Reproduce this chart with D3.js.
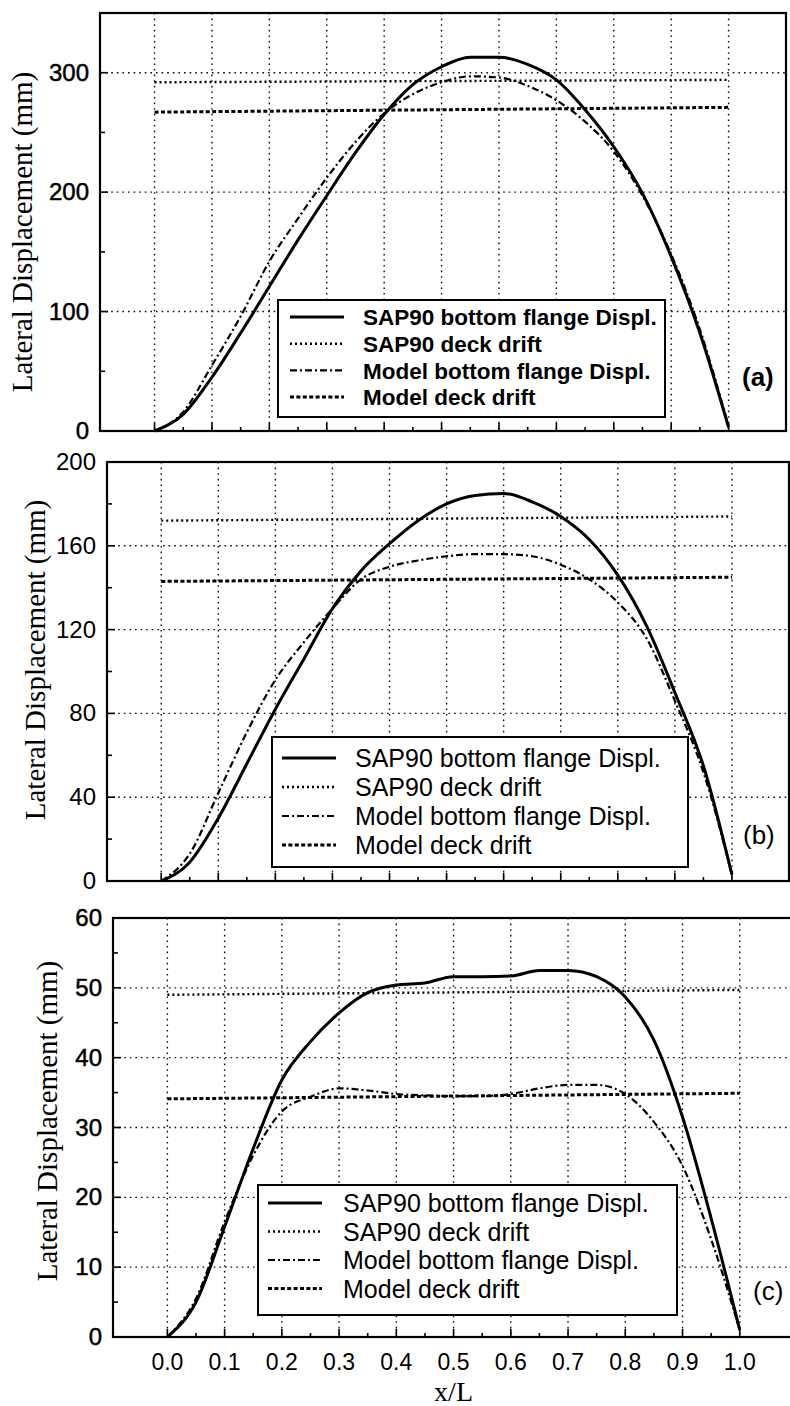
<!DOCTYPE html>
<head>
<meta charset="utf-8">
<title>Lateral displacement along the span</title>
<style>
  body { margin: 0; background: #fff; }
  svg { display: block; }
</style>
</head>

<div id="chart"></div>

<script src="https://cdn.jsdelivr.net/npm/d3@7"></script>
<script>
// stations along the span, x/L
const xs = [0.0, 0.05, 0.1, 0.15, 0.2, 0.25, 0.3, 0.35, 0.4, 0.45, 0.5,
            0.55, 0.6, 0.65, 0.7, 0.75, 0.8, 0.85, 0.9, 0.95, 1.0];
const deckXs = [0.0, 1.0];
const xTicks = [0.0, 0.1, 0.2, 0.3, 0.4, 0.5, 0.6, 0.7, 0.8, 0.9, 1.0];

// (a)
const aSapFlange   = [0, 14, 45, 82, 121, 160, 197, 233, 265, 290, 305, 313, 313, 307, 294, 269, 238, 199, 146, 82, 3];
const aModelFlange = [0, 16, 55, 96, 142, 178, 212, 242, 266, 282, 292, 297, 296, 289, 277, 259, 234, 197, 148, 85, 4];
const aSapDeck   = [292, 294];
const aModelDeck = [267, 271];

// (b)
const bSapFlange   = [0, 9, 30, 56, 82, 106, 130, 148, 161, 172, 180, 184, 185, 181, 174, 163, 146, 122, 90, 55, 3];
const bModelFlange = [0, 13, 42, 71, 96, 114, 130, 144, 150, 153, 155, 156, 156, 155, 151, 144, 133, 116, 86, 52, 3];
const bSapDeck   = [172, 174];
const bModelDeck = [143, 145];

// (c)
const cSapFlange   = [0, 5, 15.8, 27, 36.8, 42.3, 46.4, 49.3, 50.4, 50.7, 51.6, 51.6, 51.7, 52.5, 52.5, 51.6, 48.7, 42.5, 31.5, 17, 1];
const cModelFlange = [0, 5.5, 16.5, 26, 32.3, 34.4, 35.6, 35.3, 34.8, 34.6, 34.5, 34.5, 34.8, 35.6, 36.1, 36.1, 34.8, 30.8, 24.5, 14, 1];
const cSapDeck   = [49.0, 49.7];
const cModelDeck = [34.1, 34.9];

const seriesNames = ["SAP90 bottom flange Displ.", "SAP90 deck drift",
                     "Model bottom flange Displ.", "Model deck drift"];

const yTicksA = [0, 100, 200, 300];
const yTicksB = [0, 40, 80, 120, 160, 200];
const yTicksC = [0, 10, 20, 30, 40, 50, 60];

// line styles, same order as seriesNames
const styles = [
  { width: 3,   dash: null },
  { width: 2.4, dash: "2,3" },
  { width: 2.2, dash: "7,3,2,3" },
  { width: 3,   dash: "4,2.4" }
];

const W = 790, H = 1406;
const svg = d3.select("#chart").append("svg")
  .attr("width", W).attr("height", H);

const panels = [
  { tag: "(a)", flange: [aSapFlange, aModelFlange], deck: [aSapDeck, aModelDeck],
    yMax: 350, yTicks: yTicksA, minor: 50, left: 100, right: 786, top: 13, bottom: 431,
    bold: true, legend: { x: 278, y: 300, w: 387, h: 117, sx: 290, tx: 363, row0: 317, dy: 26.7, fs: 22.5 },
    tagPos: [742, 386], ylab: [32, 232] },
  { tag: "(b)", flange: [bSapFlange, bModelFlange], deck: [bSapDeck, bModelDeck],
    yMax: 200, yTicks: yTicksB, minor: 20, left: 107, right: 789, top: 462, bottom: 881,
    bold: false, legend: { x: 272, y: 737, w: 416, h: 130, sx: 282, tx: 355, row0: 758, dy: 29, fs: 25 },
    tagPos: [743, 844], ylab: [45, 660] },
  { tag: "(c)", flange: [cSapFlange, cModelFlange], deck: [cSapDeck, cModelDeck],
    yMax: 60, yTicks: yTicksC, minor: 5, left: 113, right: 797, top: 918, bottom: 1337,
    bold: false, legend: { x: 258, y: 1185, w: 419, h: 130, sx: 268, tx: 343, row0: 1203, dy: 28.5, fs: 25 },
    tagPos: [753, 1300], ylab: [57, 1121] }
];

panels.forEach(function(p, i) {
  const x = d3.scaleLinear().domain([-0.095, 1.1]).range([p.left, p.right]);
  const y = d3.scaleLinear().domain([0, p.yMax]).range([p.bottom, p.top]);
  const g = svg.append("g");

  // dotted grid
  g.selectAll(".vgrid").data(xTicks).join("line")
    .attr("x1", d => x(d)).attr("x2", d => x(d))
    .attr("y1", p.top).attr("y2", p.bottom)
    .attr("stroke", "#111").attr("stroke-width", 1.4).attr("stroke-dasharray", "1.6,4");
  g.selectAll(".hgrid").data(p.yTicks.filter(d => d > 0 && d < p.yMax)).join("line")
    .attr("x1", p.left).attr("x2", p.right)
    .attr("y1", d => y(d)).attr("y2", d => y(d))
    .attr("stroke", "#111").attr("stroke-width", 1.4).attr("stroke-dasharray", "1.6,4");

  // inward ticks, major and minor
  const yMinor = d3.range(0, p.yMax + 0.001, p.minor);
  g.selectAll(".ytick").data(yMinor).join("line")
    .attr("x1", p.left).attr("x2", d => p.left + (p.yTicks.includes(d) ? 8 : 5))
    .attr("y1", d => y(d)).attr("y2", d => y(d))
    .attr("stroke", "#000").attr("stroke-width", 1.6);
  const xMinor = d3.range(0, 21).map(k => k / 20);
  g.selectAll(".xtick").data(xMinor).join("line")
    .attr("x1", d => x(d)).attr("x2", d => x(d))
    .attr("y1", p.bottom).attr("y2", (d, k) => p.bottom - (k % 2 === 0 ? 8 : 4))
    .attr("stroke", "#000").attr("stroke-width", 1.6);

  // frame
  g.append("rect")
    .attr("x", p.left).attr("y", p.top)
    .attr("width", p.right - p.left).attr("height", p.bottom - p.top)
    .attr("fill", "none").attr("stroke", "#000").attr("stroke-width", 2.2);

  // y tick labels
  g.selectAll(".ylab").data(p.yTicks).join("text")
    .attr("x", p.left - 11).attr("y", d => y(d) + 8)
    .attr("text-anchor", "end")
    .attr("font-family", "'Liberation Sans', Arial, sans-serif")
    .attr("font-size", 24)
    .attr("stroke", p.bold || i === 2 ? "#000" : "none").attr("stroke-width", 0.5)
    .text(d => d);

  // y axis title
  g.append("text")
    .attr("transform", "translate(" + p.ylab[0] + "," + p.ylab[1] + ") rotate(-90)")
    .attr("text-anchor", "middle")
    .attr("font-family", "'Liberation Serif', 'Times New Roman', serif")
    .attr("font-size", 29)
    .text("Lateral Displacement (mm)");

  // curves
  const curve = d3.line().x((d, k) => x(xs[k])).y(d => y(d)).curve(d3.curveMonotoneX);
  const flat = d3.line().x((d, k) => x(deckXs[k])).y(d => y(d));
  const paths = [
    { d: curve(p.flange[0]), s: styles[0] },
    { d: flat(p.deck[0]),    s: styles[1] },
    { d: curve(p.flange[1]), s: styles[2] },
    { d: flat(p.deck[1]),    s: styles[3] }
  ];
  g.selectAll(".series").data(paths).join("path")
    .attr("d", d => d.d)
    .attr("fill", "none").attr("stroke", "#000")
    .attr("stroke-width", d => d.s.width)
    .attr("stroke-dasharray", d => d.s.dash)
    .attr("stroke-linejoin", "round");

  // legend
  const L = p.legend;
  const lg = g.append("g");
  lg.append("rect")
    .attr("x", L.x).attr("y", L.y).attr("width", L.w).attr("height", L.h)
    .attr("fill", "#fff").attr("stroke", "#000").attr("stroke-width", 2);
  seriesNames.forEach(function(name, k) {
    const cy = L.row0 + k * L.dy;
    lg.append("line")
      .attr("x1", L.sx).attr("x2", L.sx + 54).attr("y1", cy).attr("y2", cy)
      .attr("stroke", "#000").attr("stroke-width", styles[k].width)
      .attr("stroke-dasharray", styles[k].dash);
    lg.append("text")
      .attr("x", L.tx).attr("y", cy + L.fs * 0.36)
      .attr("font-family", "'Liberation Sans', Arial, sans-serif")
      .attr("font-size", L.fs)
      .attr("font-weight", p.bold ? "bold" : "normal")
      .text(name);
  });

  // panel tag
  g.append("text")
    .attr("x", p.tagPos[0]).attr("y", p.tagPos[1])
    .attr("font-family", "'Liberation Sans', Arial, sans-serif")
    .attr("font-size", 26)
    .attr("font-weight", p.bold ? "bold" : "normal")
    .text(p.tag);

  // x labels only under the last panel
  if (i === 2) {
    g.selectAll(".xlab").data(xTicks).join("text")
      .attr("x", d => x(d)).attr("y", p.bottom + 33)
      .attr("text-anchor", "middle")
      .attr("font-family", "'Liberation Sans', Arial, sans-serif")
      .attr("font-size", 23)
      .text(d => d.toFixed(1));
    g.append("text")
      .attr("x", x(0.5)).attr("y", p.bottom + 64)
      .attr("text-anchor", "middle")
      .attr("font-family", "'Liberation Serif', 'Times New Roman', serif")
      .attr("font-size", 28)
      .text("x/L");
  }
});
</script>
